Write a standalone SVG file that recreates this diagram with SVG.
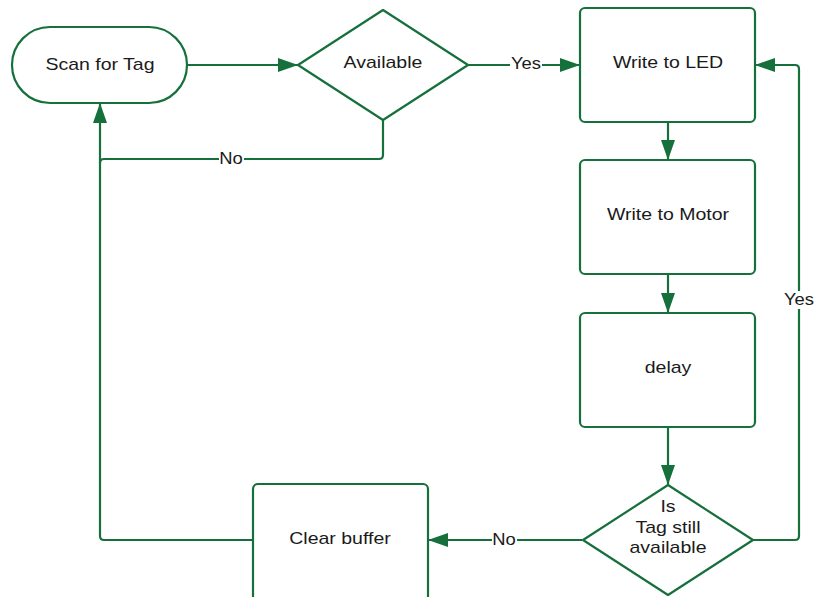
<svg xmlns="http://www.w3.org/2000/svg" width="814" height="597" viewBox="0 0 814 597">
  <style>
    .shape { fill: #ffffff; stroke: #15703c; stroke-width: 2.2; }
    .edge { fill: none; stroke: #15703c; stroke-width: 2.2; stroke-linejoin: round; }
    .label { font-family: "Liberation Sans", Arial, sans-serif; font-size: 16px; fill: #1a1a1a; text-anchor: middle; }
    .lblbg { fill: #ffffff; }
  </style>
  <defs>
    <marker id="arrowL" viewBox="0 0 20 14" refX="20" refY="7" markerWidth="20" markerHeight="14" markerUnits="userSpaceOnUse" orient="auto">
      <path d="M0,0 L20,7 L0,14 z" fill="#15703c"/>
    </marker>
  </defs>
  <rect width="814" height="597" fill="#ffffff"/>

  <g id="connectors">
    <!-- Scan for Tag -> Available -->
    <path class="edge" d="M187,65 H298" marker-end="url(#arrowL)"/>
    <!-- Available -> Write to LED (Yes) -->
    <path class="edge" d="M468,65 H580" marker-end="url(#arrowL)"/>
    <!-- Available -> Scan for Tag (No) -->
    <path class="edge" d="M383,120 V155 Q383,159 379,159 H104 Q100,159 100,163"/>
    <!-- Write to LED -> Write to Motor -->
    <path class="edge" d="M668,122 V160" marker-end="url(#arrowL)"/>
    <!-- Write to Motor -> delay -->
    <path class="edge" d="M668,274 V313" marker-end="url(#arrowL)"/>
    <!-- delay -> decision -->
    <path class="edge" d="M668,427 V485" marker-end="url(#arrowL)"/>
    <!-- decision -> Write to LED (Yes) -->
    <path class="edge" d="M753,540 H795 Q799,540 799,536 V69 Q799,65 795,65 H755" marker-end="url(#arrowL)"/>
    <!-- decision -> Clear buffer (No) -->
    <path class="edge" d="M582,540 H428" marker-end="url(#arrowL)"/>
    <!-- Clear buffer -> Scan for Tag -->
    <path class="edge" d="M253,540 H104 Q100,540 100,536 V103" marker-end="url(#arrowL)"/>

    <rect class="lblbg" x="510" y="55" width="32" height="18"/>
    <text class="label" transform="translate(526,69) scale(1.15,1)">Yes</text>
    <rect class="lblbg" x="219" y="150" width="25" height="18"/>
    <text class="label" transform="translate(231,164) scale(1.15,1)">No</text>
    <rect class="lblbg" x="783" y="291" width="32" height="18"/>
    <text class="label" transform="translate(799,305) scale(1.15,1)">Yes</text>
    <rect class="lblbg" x="492" y="531" width="25" height="18"/>
    <text class="label" transform="translate(504,545) scale(1.15,1)">No</text>
  </g>

  <g id="scan">
    <rect class="shape" x="12" y="27" width="175" height="76" rx="38" ry="38"/>
    <text class="label" transform="translate(100,70) scale(1.22,1)">Scan for Tag</text>
  </g>
  <g id="available">
    <path class="shape" d="M383,10 L468,65 L383,120 L298,65 Z" stroke-linejoin="round"/>
    <text class="label" transform="translate(383,68) scale(1.22,1)">Available</text>
  </g>
  <g id="write-led">
    <rect class="shape" x="580" y="8" width="175" height="114" rx="5" ry="5"/>
    <text class="label" transform="translate(668,68) scale(1.22,1)">Write to LED</text>
  </g>
  <g id="write-motor">
    <rect class="shape" x="580" y="160" width="175" height="114" rx="5" ry="5"/>
    <text class="label" transform="translate(668,220) scale(1.22,1)">Write to Motor</text>
  </g>
  <g id="delay">
    <rect class="shape" x="580" y="313" width="175" height="114" rx="5" ry="5"/>
    <text class="label" transform="translate(668,373) scale(1.22,1)">delay</text>
  </g>
  <g id="still-available">
    <path class="shape" d="M668,485 L753,540 L668,595 L583,540 Z" stroke-linejoin="round"/>
    <text class="label" transform="translate(668,512) scale(1.22,1)">Is</text>
    <text class="label" transform="translate(668,533) scale(1.22,1)">Tag still</text>
    <text class="label" transform="translate(668,553) scale(1.22,1)">available</text>
  </g>
  <g id="clear-buffer">
    <rect class="shape" x="253" y="484" width="175" height="120" rx="5" ry="5"/>
    <text class="label" transform="translate(340,544) scale(1.22,1)">Clear buffer</text>
  </g>
</svg>
